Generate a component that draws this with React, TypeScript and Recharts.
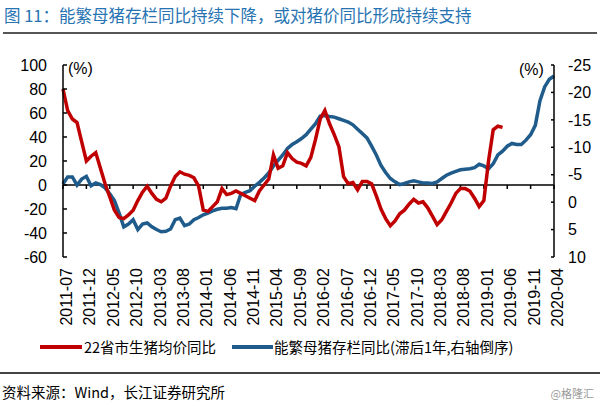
import React from "react";
import {
  LineChart,
  Line,
  XAxis,
  YAxis,
  ReferenceLine,
} from "recharts";

// monthly categories, 2011-07 .. 2020-04
const startYear = 2011;
const startMonth = 7;
const monthCount = 106;
const months: string[] = [];
for (let i = 0; i < monthCount; i++) {
  const m = startMonth - 1 + i;
  const y = startYear + Math.floor(m / 12);
  const mm = (m % 12) + 1;
  months.push(`${y}-${mm < 10 ? "0" + mm : mm}`);
}

const tickLabels = [
  "2011-07", "2011-12", "2012-05", "2012-10", "2013-03", "2013-08",
  "2014-01", "2014-06", "2014-11", "2015-04", "2015-09", "2016-02",
  "2016-07", "2016-12", "2017-05", "2017-10", "2018-03", "2018-08",
  "2019-01", "2019-06", "2019-11", "2020-04",
];

// 22省市生猪均价同比 (%), left axis
const hogPrice = [
  80, 62, 55, 52, 36, 20, 24, 27, 14, 1,
  -10, -21, -27, -28, -25, -21, -13, -6, -1, -7,
  -12, -14, -11, -1, 7, 11, 9, 8, 6, -1,
  -21, -22, -18, -14, -3, -8, -7, -5, -7, -9,
  -11, -13, -5, 0, 5, 25, 14, 16, 27, 22,
  19, 18, 16, 23, 38, 55, 62, 51, 42, 32,
  7, 1, 2, -4, 3, 3, 1, -9, -20, -28,
  -34, -30, -24, -21, -16, -12, -15, -14, -19, -26,
  -33, -29, -22, -15, -7, -3, -3, -5, -11, -18,
  -13, 20, 46, 49, 48,
];

// 能繁母猪存栏同比 (%), lagged 1 year, right axis reversed
const sowStock = [
  -3.3, -4.6, -4.6, -3.1, -4.2, -4.7, -3.0, -3.5, -3.2, -2.6,
  -1.5, -0.3, 2.0, 4.5, 4.0, 3.2, 5.0, 4.0, 3.8, 4.5,
  5.0, 5.4, 5.3, 4.9, 3.2, 2.9, 4.3, 4.0, 3.2, 2.8,
  2.3, 2.0, 1.6, 1.3, 1.1, 1.1, 1.0, 1.2, -1.4, -1.8,
  -2.1, -2.9, -3.6, -4.4, -5.3, -6.6, -7.6, -8.6, -9.8, -10.5,
  -11.0, -11.6, -12.3, -13.3, -14.3, -15.7, -15.8, -15.6, -15.5, -15.2,
  -14.9, -14.6, -14.1, -13.3, -12.5, -11.7, -10.2, -8.6, -6.7, -5.4,
  -4.3, -3.7, -3.2, -3.4, -3.7, -3.9, -3.7, -3.5, -3.5, -3.4,
  -3.7, -4.3, -4.9, -5.3, -5.6, -5.9, -6.0, -6.1, -6.3, -6.9,
  -6.6, -6.1, -7.0, -8.6, -9.3, -10.2, -10.7, -10.5, -10.5, -11.3,
  -12.3, -14.0, -18.5, -21.0, -22.4, -23.0,
];

const leftTicks = [-60, -40, -20, 0, 20, 40, 60, 80, 100];
const rightTicks = [-25, -20, -15, -10, -5, 0, 5, 10];

const data = months.map((m, i) => ({
  month: m,
  price: i < hogPrice.length ? hogPrice[i] : null,
  sow: sowStock[i],
}));

const RED = "#C00000";
const BLUE = "#1F5C8B";
const sans = "Arial, 'Liberation Sans', sans-serif";
const cjk = "'Noto Sans CJK SC', sans-serif";

const MonthTick = ({ x, y, payload }: any) => (
  <g transform={`translate(${x},${y})`}>
    <text
      transform="rotate(-90)"
      x={-11}
      dy={9}
      textAnchor="end"
      fontSize={16}
      fontFamily={sans}
      fill="#000"
    >
      {payload.value}
    </text>
  </g>
);

export default function App() {
  return (
    <div
      style={{
        position: "absolute",
        left: 0,
        top: 0,
        width: 600,
        height: 406,
        background: "#fff",
        fontFamily: cjk,
        overflow: "hidden",
      }}
    >
      <div
        style={{
          position: "absolute",
          left: 4,
          top: 3,
          fontSize: 16.5,
          color: "#2874B2",
          whiteSpace: "nowrap",
        }}
      >
        图 11：能繁母猪存栏同比持续下降，或对猪价同比形成持续支持
      </div>
      <div
        style={{
          position: "absolute",
          left: 3,
          top: 32,
          width: 594,
          height: 2,
          background: "#555",
        }}
      />

      <div style={{ position: "absolute", left: 0, top: 0 }}>
        <LineChart
          width={600}
          height={340}
          data={data}
          margin={{ top: 65, right: 0, bottom: 0, left: 0 }}
        >
          <XAxis
            dataKey="month"
            interval={4}
            axisLine={false}
            tickLine={false}
            tickSize={0}
            tickMargin={0}
            height={83}
            tick={<MonthTick />}
          />
          <YAxis
            yAxisId="left"
            domain={[-60, 100]}
            ticks={leftTicks}
            width={63}
            tickSize={-4}
            tickMargin={20}
            axisLine={{ stroke: "#000", strokeWidth: 1.5 }}
            tickLine={{ stroke: "#000", strokeWidth: 1.5 }}
            tick={{ fill: "#000", fontSize: 16, fontFamily: sans }}
          />
          <YAxis
            yAxisId="right"
            orientation="right"
            reversed
            domain={[-25, 10]}
            ticks={rightTicks}
            width={46}
            tickSize={-3}
            tickMargin={17}
            axisLine={{ stroke: "#000", strokeWidth: 1.5 }}
            tickLine={{ stroke: "#000", strokeWidth: 1.5 }}
            tick={{ fill: "#000", fontSize: 16, fontFamily: sans, textAnchor: "start" }}
          />
          <ReferenceLine yAxisId="left" y={0} stroke="#000" strokeWidth={1.5} />
          {tickLabels.map((t) => (
            <ReferenceLine
              key={t}
              yAxisId="left"
              segment={[
                { x: t, y: 0 },
                { x: t, y: -3.3 },
              ]}
              stroke="#000"
              strokeWidth={1.5}
            />
          ))}
          <Line
            yAxisId="right"
            dataKey="sow"
            stroke={BLUE}
            strokeWidth={3.5}
            dot={false}
            isAnimationActive={false}
          />
          <Line
            yAxisId="left"
            dataKey="price"
            stroke={RED}
            strokeWidth={3.5}
            dot={false}
            isAnimationActive={false}
            connectNulls={false}
          />
        </LineChart>
      </div>

      <div
        style={{
          position: "absolute",
          left: 68,
          top: 60,
          fontSize: 16,
          fontFamily: sans,
        }}
      >
        (%)
      </div>
      <div
        style={{
          position: "absolute",
          left: 519,
          top: 61,
          fontSize: 16,
          fontFamily: sans,
        }}
      >
        (%)
      </div>

      <div
        style={{
          position: "absolute",
          left: 40,
          top: 345,
          width: 42,
          height: 4,
          background: RED,
        }}
      />
      <div
        style={{
          position: "absolute",
          left: 84,
          top: 337,
          fontSize: 14.5,
          lineHeight: "20px",
          whiteSpace: "nowrap",
        }}
      >
        22省市生猪均价同比
      </div>
      <div
        style={{
          position: "absolute",
          left: 232,
          top: 345,
          width: 41,
          height: 4,
          background: BLUE,
        }}
      />
      <div
        style={{
          position: "absolute",
          left: 274,
          top: 337,
          fontSize: 14.5,
          lineHeight: "20px",
          whiteSpace: "nowrap",
        }}
      >
        能繁母猪存栏同比(滞后1年,右轴倒序)
      </div>

      <div
        style={{
          position: "absolute",
          left: 0,
          top: 372,
          width: 600,
          height: 1.5,
          background: "#444",
        }}
      />
      <div
        style={{
          position: "absolute",
          left: 2,
          top: 382,
          fontSize: 14.5,
          lineHeight: "20px",
          whiteSpace: "nowrap",
        }}
      >
        资料来源：Wind，长江证券研究所
      </div>
      <div
        style={{
          position: "absolute",
          right: 6,
          top: 385,
          fontSize: 11,
          lineHeight: "16px",
          color: "#999",
          whiteSpace: "nowrap",
        }}
      >
        @格隆汇
      </div>
    </div>
  );
}
